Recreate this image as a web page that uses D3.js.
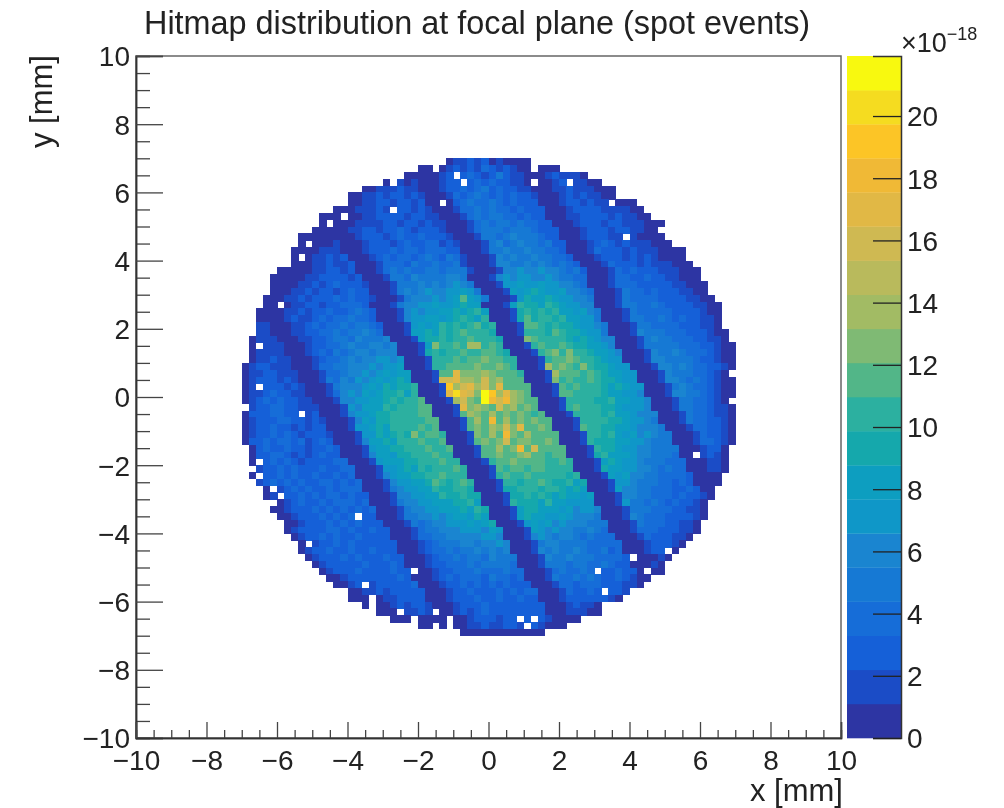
<!DOCTYPE html>
<html>
<head>
<meta charset="utf-8">
<script src="https://cdn.jsdelivr.net/npm/d3@7"></script>
<style>
body { margin: 0; background: #fff; }
text { font-family: "Liberation Sans", Arial, sans-serif; fill: #222; }
</style>
</head>
<body>
<div id="chart"></div>
<script>
// bin contents, one string per row from y=+7 down to y=-7
// one char per 0.2 mm bin from x=-7, base 36, in units of 1e-18. "." = empty bin
var hitRows = [
".......... .......... .........1 2232312111 1",
".......... .......... .....11.12 3232432321 1.111",
".......... .......... ...1111123 .343235322 111232221",
".......... .......... 1.21211123 3.34343322 1.1123.221 1",
".......... .......112 2232211123 3434534332 2111223222 111",
".......... .....11223 2332321112 4345434343 3211123232 211",
".......... .....11223 32332311.1 3454454343 3311123323 22.111",
".......... ...1112223 2.33232111 2445454434 3331112333 3222211",
".......... .111.11223 3332332211 1245455443 4331112233 33232211",
".......... .1.1112222 3323323221 1124545545 4433111233 3233222111",
".......... 1111122332 3343233321 1124555455 5433311123 332332211",
"........11 1111112333 2343343332 1112554565 5543311123 3322.21111",
"........1. 1112111233 3234334423 2111256456 5545331112 3432322211 1",
".......111 1222111233 3434434443 3111255655 6554431112 4333232221 111",
".......1.1 2232311123 4344345435 4211126565 5655443111 2333232321 111",
".......111 2232231112 4443544544 5211126655 6565454311 1243332322 2111",
".....11111 2233231112 4545445545 5521112667 6676654531 1124343332 22111",
"....111112 2333323111 2554655556 6511126767 7667655441 1124433433 22111",
"....111122 3234333211 1255565656 7651112778 7787766541 1124443333 322111",
"....111223 2332343311 1256567667 7875111287 8987786654 1112544343 332211",
"...1112232 3334343321 1125666767 8b87511127 9889877665 1112544443 3332211",
"...11.1223 3233444311 1256677877 898811128a 998a987766 1112554454 33332211",
"..11112232 3343345431 1126767788 989a811129 a9a9a88786 5111254444 43333211",
"..11112322 3434454431 1126778878 9a98a11129 b9aa9a8877 5111255445 43433221",
"..22111223 4344545543 11127878a9 a9ab9a1112 bba9a99877 6511125544 44333221",
"..22111223 3445455654 11128898a9 abaaa91112 aaa9ba9987 7511126555 444333211",
".122211122 3345546555 61112899a9 aabaaa9111 dbaaaa9898 7661112565 544433221",
".1.2221112 3344565566 5611128daa baeeaba111 2acaaba998 8761112555 5544433211",
".122221112 3435456656 6611129a9a abaabca911 12abdadaa9 8876111265 5654443211",
".122322111 2344565667 7671112aaa bacbdbcaa1 112acbdbaa 9877111266 5555433211",
"1233222111 2445566676 7781112aab bccdcbdba1 112ebdbada 9987711126 6565443321",
"1223322211 1244566767 87881112bb hdddedccba 1112ebcbab a988771112 655544321.",
"1233323211 1254657678 78981112gg heedgdebcb 1112dacaab a998771112 6654543211",
"12.3332321 1125666787 9899a1112j eghegdhcbc b1112bacaa a989877111 2565443211",
"1223433221 1124676878 99a8a1112h khgdljehed c1112cbaaa a988776111 2665543211",
"1234343322 1112667788 9a9aab1112 egdcligied cb1112aaaa 99a8877611 125544321.",
".233443322 2111276888 a9aaabc111 2hdedcgdec dc1112abaa a998777611 1255443221",
"13334433.2 3111267789 9aaaabc111 2cedcebdcd bac1112aaa a9a8876661 1125443221",
"1233344332 3211126879 9aaaaabc11 12cebicecd bdbc1112aa aa99877651 1125443321",
"1233433232 3311127789 8aaaabab11 12bdcedgdh bcdb1112ba a998876665 1112443321",
"1233434323 3321112779 89a9dabba1 112dbecidb ebcbc1112a a9a8786765 5111243321",
"1334344342 3431112688 98aaabaab1 112cdbdgcd dcbdb1112a 9998877655 5111244321",
".134334332 3343111278 899aaabaab 1112cbebdi cgcbcb1112 a998776655 551112331",
".133443232 3433111268 8799aaabaa 1112cbdcbd ebcabb1112 9a88876655 5411.2321",
".1.3434323 3334411127 88899aaaba a1112acbdb cbbaaba111 2898776555 444111221",
"..23343433 3433441112 77898a9aaa ba1112babb acbaaaa111 2988776654 544111221",
".1.3343433 4334341112 678899aaba aa1112abaa baaaaa9a11 1287866554 44431111",
"..23434343 3443434111 2677889ba9 aba1112aa9 aaba99a891 1127765554 43431111",
"...1.23434 3343444111 2567788a99 aa9111299a aa9aa98981 1128665544 4334311",
"...12.3343 4344343311 12667788a9 9a99111299 a9a9898878 1112665544 4343321",
".....12343 3434443411 1256677888 99a81112a9 998a887777 1112755454 343321",
"....112333 4343434341 1125667788 898a911128 9988878677 6111255544 433221",
".....11233 343434.331 1125566767 8879811128 9887787666 5111265444 333321",
"......1123 3343434333 1112545667 7787891112 7878676665 5511125444 33221",
"......1233 3344343343 3111245566 6777687111 2876766556 5411124443 33221",
".......123 3434334333 3111244556 6666776111 2676566545 4441112433 3221",
"........1. 2334343333 3311123455 5665667611 1256655554 4444111233 321",
"........12 3343343343 3311123445 4556565611 1265655654 4534111233 .1",
".........1 2333434333 4331112344 5455465551 1126556555 44443.1112 1",
".......... 1233333433 3431112334 4454555541 1125554554 4543311121",
".......... .123334333 3433.11233 4445444544 1112454454 .334331.11",
".......... ..11233333 3343111234 3444354434 1112544545 43343211",
".......... ...1123.23 3333411123 3434343433 3111244344 4333221",
".......... .....11223 2333331112 3343334343 4411124334 3.332",
".......... .....111.1 2233331112 3334334334 3311123333 3321",
".......... .......1.1 1232332111 2333433333 3331112322 1",
".......... .........1 11.2232.11 2323433333 3331112221 1",
".......... .......... .111.1111. 112333233. 3.321111",
".......... .......... .....11.1. 1122322332 .32111",
".......... .......... .......... .111111111 111"
];

var xTicks = [-10,-8,-6,-4,-2,0,2,4,6,8,10];
var yTicks = [-10,-8,-6,-4,-2,0,2,4,6,8,10];
var zTicks = [0,2,4,6,8,10,12,14,16,18,20];
var zMax = 21.93;
var binWidth = 0.2;
var firstBinX = -7;
var firstBinY = 7;

// bottom to top of the colour bar
var zColors = ["#2d35a3","#1b4cc6","#1560d8","#166dd8","#1679d4","#1a85d0","#0f97c8","#0d9ec0","#15a8ac","#2cb0a0",
    "#52b688","#7fba74","#a2bb64","#b9ba5c","#cfb952","#e1b845","#f0b936","#fcc526","#f5dc20","#f8f90f"];

var width = 1004;
var height = 808;
var plot = {left: 136, right: 841, top: 56, bottom: 738};
var bar = {left: 847, right: 901};

var svg = d3.select("#chart")
    .append("svg")
    .attr("width", width)
    .attr("height", height)
    .style("display", "block")
    .style("filter", "blur(0.5px)");

var x = d3.scaleLinear().domain([-10,10]).range([plot.left, plot.right]);
var y = d3.scaleLinear().domain([-10,10]).range([plot.bottom, plot.top]);
var z = d3.scaleLinear().domain([0,zMax]).range([plot.bottom, plot.top]);
var color = d3.scaleQuantize().domain([0,zMax]).range(zColors);

// turn the strings into bins
var bins = [];
hitRows.forEach(function(row, r) {
    row.replace(/ /g,"").split("").forEach(function(ch, c) {
        if (ch == ".") return;
        bins.push({
            x: firstBinX + c*binWidth,
            y: firstBinY - r*binWidth,
            v: parseInt(ch, 36)
        });
    });
});

svg.append("g").selectAll("rect")
    .data(bins)
    .enter()
    .append("rect")
    .attr("x", function(d) { return x(d.x); })
    .attr("y", function(d) { return y(d.y); })
    .attr("width", x(binWidth) - x(0) + 0.5)
    .attr("height", y(0) - y(binWidth) + 0.5)
    .attr("shape-rendering", "crispEdges")
    .attr("fill", function(d) { return color(d.v); });

// frame
svg.append("rect")
    .attr("x", plot.left)
    .attr("y", plot.top)
    .attr("width", plot.right - plot.left)
    .attr("height", plot.bottom - plot.top)
    .attr("fill", "none")
    .attr("stroke", "#666")
    .attr("stroke-width", 1.5);

function minorTicks(ticks) {
    var out = [];
    for (var i=0; i<ticks.length-1; i++) {
        for (var j=1; j<4; j++) out.push(ticks[i] + j*(ticks[i+1]-ticks[i])/4);
    }
    return out;
}

function fixAxis(g) {
    g.select(".domain").attr("stroke", "#333").attr("stroke-width", 1.5);
    g.selectAll(".tick line").attr("stroke", "#444").attr("stroke-width", 1.3);
    g.selectAll("text").attr("font-size", 28).attr("font-family", null).attr("fill", "#222");
}

var fmt = function(d) { return String(d).replace("-", "\u2212"); };

// y axis
svg.append("g")
    .attr("transform", "translate(" + plot.left + ",0)")
    .call(d3.axisRight(y).tickValues(minorTicks(yTicks)).tickSize(14).tickFormat(""))
    .call(fixAxis);
svg.append("g")
    .attr("transform", "translate(" + plot.left + ",0)")
    .call(d3.axisRight(y).tickValues(yTicks).tickSize(27).tickFormat(fmt))
    .call(fixAxis)
    .call(function(g) {
        g.selectAll("text").attr("x", -6).attr("text-anchor", "end").attr("dy", "0.35em");
    });

// x axis
svg.append("g")
    .attr("transform", "translate(0," + plot.bottom + ")")
    .call(d3.axisTop(x).tickValues(minorTicks(xTicks)).tickSize(8).tickFormat(""))
    .call(fixAxis);
svg.append("g")
    .attr("transform", "translate(0," + plot.bottom + ")")
    .call(d3.axisTop(x).tickValues(xTicks).tickSize(16).tickFormat(fmt))
    .call(fixAxis)
    .call(function(g) {
        g.selectAll("text").attr("y", 32).attr("dy", 0).attr("text-anchor", "middle");
    });

// colour bar
svg.append("g").selectAll("rect")
    .data(zColors)
    .enter()
    .append("rect")
    .attr("x", bar.left)
    .attr("width", bar.right - bar.left)
    .attr("y", function(d, i) { return z((i+1)*zMax/zColors.length); })
    .attr("height", function(d, i) { return z(i*zMax/zColors.length) - z((i+1)*zMax/zColors.length) + 0.3; })
    .attr("fill", function(d) { return d; });

svg.append("g")
    .attr("transform", "translate(" + bar.right + ",0)")
    .call(d3.axisLeft(z).tickValues(zTicks).tickSize(28).tickFormat(d3.format("d")))
    .call(fixAxis)
    .call(function(g) {
        g.selectAll("text").attr("x", 6).attr("text-anchor", "start").attr("dy", "0.35em");
        g.selectAll(".tick line").attr("stroke", "#222");
    });

// title and labels
svg.append("text")
    .attr("x", 144)
    .attr("y", 34)
    .attr("font-size", 32.4)
    .text("Hitmap distribution at focal plane (spot events)");

svg.append("text")
    .attr("x", 843)
    .attr("y", 801)
    .attr("text-anchor", "end")
    .attr("font-size", 31)
    .text("x [mm]");

svg.append("text")
    .attr("transform", "translate(52,55) rotate(-90)")
    .attr("text-anchor", "end")
    .attr("font-size", 31)
    .text("y [mm]");

var expo = svg.append("text")
    .attr("x", 901)
    .attr("y", 52)
    .attr("font-size", 27);
expo.append("tspan").text("\u00d710");
expo.append("tspan").attr("font-size", 18).attr("dy", -12).text("\u221218");
</script>
</body>
</html>
